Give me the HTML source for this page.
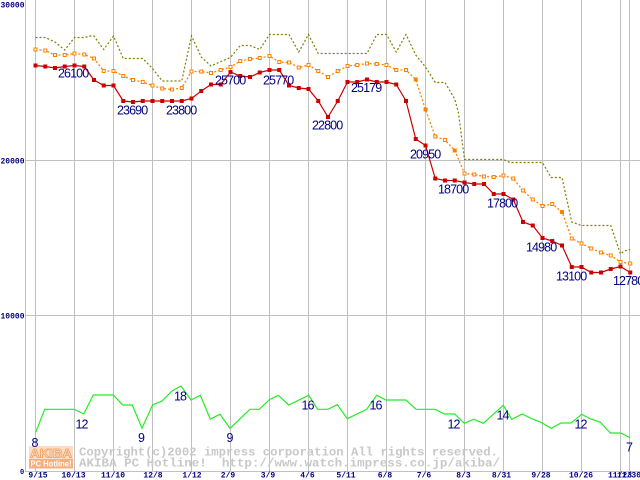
<!DOCTYPE html>
<html><head><meta charset="utf-8"><style>
html,body{margin:0;padding:0;background:#fff;}
svg{display:block;}
.ax{font-family:"Liberation Mono",monospace;font-weight:bold;font-size:8px;fill:#000080;}
.vl{font-family:"Liberation Sans",sans-serif;font-size:12.5px;letter-spacing:-0.9px;fill:#000080;}
.wm{font-family:"Liberation Mono",monospace;font-weight:bold;font-size:11.5px;fill:#c8c8c8;}
</style></head><body>
<svg width="640" height="480" viewBox="0 0 640 480" xmlns="http://www.w3.org/2000/svg">
<rect x="0" y="0" width="640" height="480" fill="#fff"/>
<!-- grid -->
<g stroke="#c0c0c0" stroke-width="1" fill="none">
<line x1="25.5" y1="0" x2="25.5" y2="472"/>
<line x1="35.5" y1="0" x2="35.5" y2="472"/>
<line x1="74.5" y1="0" x2="74.5" y2="472"/>
<line x1="113.5" y1="0" x2="113.5" y2="472"/>
<line x1="152.5" y1="0" x2="152.5" y2="472"/>
<line x1="191.5" y1="0" x2="191.5" y2="472"/>
<line x1="230.5" y1="0" x2="230.5" y2="472"/>
<line x1="269.5" y1="0" x2="269.5" y2="472"/>
<line x1="308.5" y1="0" x2="308.5" y2="472"/>
<line x1="347.5" y1="0" x2="347.5" y2="472"/>
<line x1="386.5" y1="0" x2="386.5" y2="472"/>
<line x1="425.5" y1="0" x2="425.5" y2="472"/>
<line x1="464.5" y1="0" x2="464.5" y2="472"/>
<line x1="503.5" y1="0" x2="503.5" y2="472"/>
<line x1="542.5" y1="0" x2="542.5" y2="472"/>
<line x1="581.5" y1="0" x2="581.5" y2="472"/>
<line x1="620.5" y1="0" x2="620.5" y2="472"/>
<line x1="629.5" y1="0" x2="629.5" y2="472"/>
<line x1="25" y1="160.5" x2="640" y2="160.5"/>
<line x1="25" y1="315.5" x2="640" y2="315.5"/>
<line x1="25" y1="471.5" x2="640" y2="471.5"/>
</g>
<!-- watermark -->
<rect x="29" y="446" width="44" height="13" fill="#fcdcc4"/>
<rect x="29" y="459" width="44" height="9.5" fill="#f5ae7c"/>
<text x="30" y="457.5" textLength="42" lengthAdjust="spacingAndGlyphs" style="font-family:'Liberation Sans',sans-serif;font-weight:bold;font-size:12px;fill:#fde6d4;stroke:#f0a060;stroke-width:0.8">AKIBA</text>
<text x="30.5" y="466.5" textLength="41" lengthAdjust="spacingAndGlyphs" style="font-family:'Liberation Sans',sans-serif;font-weight:bold;font-size:8px;fill:#fff">PC Hotline!</text>
<text class="wm" x="79" y="455.5" textLength="419" lengthAdjust="spacingAndGlyphs">Copyright(c)2002 impress corporation All rights reserved.</text>
<text class="wm" x="79" y="466.5" textLength="421" lengthAdjust="spacingAndGlyphs" xml:space="preserve">AKIBA PC Hotline!  http://www.watch.impress.co.jp/akiba/</text>
<!-- olive -->
<polyline fill="none" stroke="#808000" stroke-width="1.2" stroke-dasharray="2,2" points="35.5,37.5 45.25,37.5 55,42 64.75,50 74.5,37.5 84.25,37.5 90.5,36 94,36 103.75,49.5 113.5,36 123.25,58.5 142.75,58.5 152.5,68.5 162.25,81 181.75,81 191.5,36 201.25,57 211,66 220.75,61.5 230.5,57.5 240.25,45.5 250,45.5 259.75,49.5 269.5,34.5 289,34.5 298.75,52 308.5,34.5 318.25,53.5 367,53.5 376.75,34.5 386.5,34.5 396.25,52 406,34.5 415.75,55 425.5,67 435.25,82.5 445,82.5 454.75,99 458.5,113 464.5,159.5 503.5,159.5 510,162.5 542.5,162.5 551,177.5 562,177.5 571.75,222 581.5,225.5 610.75,225.5 620.5,254 624,251 630.25,249.5"/>
<!-- orange -->
<polyline fill="none" stroke="#ff8000" stroke-width="1.3" stroke-dasharray="2,2" points="35.5,49.5 45.25,50.5 55,55 64.75,55 74.5,53.5 84.25,54.5 94,58.5 103.75,71 113.5,71 123.25,76 133,80 142.75,82 152.5,85.5 162.25,88.5 172,89.5 181.75,88 191.5,71.5 201.25,71.5 211,73 220.75,70 230.5,67 240.25,61 250,59 259.75,58 269.5,56 279.25,62 289,62.5 298.75,67.5 308.5,65 318.25,71 328,77 337.75,71 347.5,66 357.25,65 367,63.5 376.75,64 386.5,65 396.25,70 406,70 415.75,79.5 425.5,109.5 435.25,136.5 445,140 454.75,150.5 464.5,173.5 474.25,174.5 484,176.5 493.75,177 503.5,175.5 513.25,178.5 523,190.5 532.75,199.5 542.5,206 552.25,204 562,212 571.75,238.5 581.5,243.5 591.25,248.5 601,252.5 610.75,255.5 620.5,262 630.25,263.5"/>
<g fill="#fff" stroke="#ff8000" stroke-width="1">
<rect x="34" y="48" width="3" height="3"/><rect x="43.75" y="49" width="3" height="3"/><rect x="53.5" y="53.5" width="3" height="3"/><rect x="63.25" y="53.5" width="3" height="3"/><rect x="73" y="52" width="3" height="3"/><rect x="82.75" y="53" width="3" height="3"/><rect x="92.5" y="57" width="3" height="3"/><rect x="102.25" y="69.5" width="3" height="3"/><rect x="112" y="69.5" width="3" height="3"/><rect x="121.75" y="74.5" width="3" height="3"/><rect x="131.5" y="78.5" width="3" height="3"/><rect x="141.25" y="80.5" width="3" height="3"/><rect x="151" y="84" width="3" height="3"/><rect x="160.75" y="87" width="3" height="3"/><rect x="170.5" y="88" width="3" height="3"/><rect x="180.25" y="86.5" width="3" height="3"/><rect x="190" y="70" width="3" height="3"/><rect x="199.75" y="70" width="3" height="3"/><rect x="209.5" y="71.5" width="3" height="3"/><rect x="219.25" y="68.5" width="3" height="3"/><rect x="229" y="65.5" width="3" height="3"/><rect x="238.75" y="59.5" width="3" height="3"/><rect x="248.5" y="57.5" width="3" height="3"/><rect x="258.25" y="56.5" width="3" height="3"/><rect x="268" y="54.5" width="3" height="3"/><rect x="277.75" y="60.5" width="3" height="3"/><rect x="287.5" y="61" width="3" height="3"/><rect x="297.25" y="66" width="3" height="3"/><rect x="307" y="63.5" width="3" height="3"/><rect x="316.75" y="69.5" width="3" height="3"/><rect x="326.5" y="75.5" width="3" height="3"/><rect x="336.25" y="69.5" width="3" height="3"/><rect x="346" y="64.5" width="3" height="3"/><rect x="355.75" y="63.5" width="3" height="3"/><rect x="365.5" y="62" width="3" height="3"/><rect x="375.25" y="62.5" width="3" height="3"/><rect x="385" y="63.5" width="3" height="3"/><rect x="394.75" y="68.5" width="3" height="3"/><rect x="404.5" y="68.5" width="3" height="3"/>
<rect x="433.75" y="135" width="3" height="3"/><rect x="443.5" y="138.5" width="3" height="3"/><rect x="463" y="172" width="3" height="3"/><rect x="472.75" y="173" width="3" height="3"/><rect x="482.5" y="175" width="3" height="3"/><rect x="492.25" y="175.5" width="3" height="3"/><rect x="502" y="174" width="3" height="3"/><rect x="511.75" y="177" width="3" height="3"/><rect x="521.5" y="189" width="3" height="3"/><rect x="531.25" y="198" width="3" height="3"/><rect x="541" y="204.5" width="3" height="3"/><rect x="550.75" y="202.5" width="3" height="3"/><rect x="570.25" y="237" width="3" height="3"/><rect x="580" y="242" width="3" height="3"/><rect x="589.75" y="247" width="3" height="3"/><rect x="599.5" y="251" width="3" height="3"/><rect x="609.25" y="254" width="3" height="3"/><rect x="619" y="260.5" width="3" height="3"/><rect x="628.75" y="262" width="3" height="3"/>
</g>
<g fill="#ff8000" stroke="#ff8000" stroke-width="1">
<rect x="414.25" y="78" width="3" height="3"/><rect x="424" y="108" width="3" height="3"/><rect x="453.25" y="149" width="3" height="3"/><rect x="560.5" y="210.5" width="3" height="3"/>
</g>
<!-- red -->
<polyline fill="none" stroke="#cc0000" stroke-width="1.2" points="35.5,65.5 45.25,66.5 55,68 64.75,66.5 74.5,65.5 84.25,66.5 94,80 103.75,85.5 113.5,85.5 123.25,101 133,102 142.75,101 152.5,101 162.25,101 172,101 181.75,101 191.5,98.5 201.25,91 211,84.5 220.75,84.5 230.5,72 240.25,76 250,77 259.75,72.5 269.5,70 279.25,70 289,85.5 298.75,88 308.5,89 318.25,101 328,117 337.75,101 347.5,82 357.25,82 367,79.5 376.75,82 386.5,82 396.25,84.5 406,101 415.75,139 425.5,145.5 435.25,178.5 445,180.5 454.75,180.5 464.5,182.5 474.25,184 484,184 493.75,194 503.5,194 513.25,199.5 523,222 532.75,225.5 542.5,238 552.25,241 562,245.5 571.75,267 581.5,267 591.25,272.5 601,272.5 610.75,269 620.5,266.5 630.25,272.5"/>
<g fill="#cc0000">
<rect x="33.5" y="63.5" width="4" height="4"/><rect x="43.25" y="64.5" width="4" height="4"/><rect x="53" y="66" width="4" height="4"/><rect x="62.75" y="64.5" width="4" height="4"/><rect x="72.5" y="63.5" width="4" height="4"/><rect x="82.25" y="64.5" width="4" height="4"/><rect x="92" y="78" width="4" height="4"/><rect x="101.75" y="83.5" width="4" height="4"/><rect x="111.5" y="83.5" width="4" height="4"/><rect x="121.25" y="99" width="4" height="4"/><rect x="131" y="100" width="4" height="4"/><rect x="140.75" y="99" width="4" height="4"/><rect x="150.5" y="99" width="4" height="4"/><rect x="160.25" y="99" width="4" height="4"/><rect x="170" y="99" width="4" height="4"/><rect x="179.75" y="99" width="4" height="4"/><rect x="189.5" y="96.5" width="4" height="4"/><rect x="199.25" y="89" width="4" height="4"/><rect x="209" y="82.5" width="4" height="4"/><rect x="218.75" y="82.5" width="4" height="4"/><rect x="228.5" y="70" width="4" height="4"/><rect x="238.25" y="74" width="4" height="4"/><rect x="248" y="75" width="4" height="4"/><rect x="257.75" y="70.5" width="4" height="4"/><rect x="267.5" y="68" width="4" height="4"/><rect x="277.25" y="68" width="4" height="4"/><rect x="287" y="83.5" width="4" height="4"/><rect x="296.75" y="86" width="4" height="4"/><rect x="306.5" y="87" width="4" height="4"/><rect x="316.25" y="99" width="4" height="4"/><rect x="326" y="115" width="4" height="4"/><rect x="335.75" y="99" width="4" height="4"/><rect x="345.5" y="80" width="4" height="4"/><rect x="355.25" y="80" width="4" height="4"/><rect x="365" y="77.5" width="4" height="4"/><rect x="374.75" y="80" width="4" height="4"/><rect x="384.5" y="80" width="4" height="4"/><rect x="394.25" y="82.5" width="4" height="4"/><rect x="404" y="99" width="4" height="4"/><rect x="413.75" y="137" width="4" height="4"/><rect x="423.5" y="143.5" width="4" height="4"/><rect x="433.25" y="176.5" width="4" height="4"/><rect x="443" y="178.5" width="4" height="4"/><rect x="452.75" y="178.5" width="4" height="4"/><rect x="462.5" y="180.5" width="4" height="4"/><rect x="472.25" y="182" width="4" height="4"/><rect x="482" y="182" width="4" height="4"/><rect x="491.75" y="192" width="4" height="4"/><rect x="501.5" y="192" width="4" height="4"/><rect x="511.25" y="197.5" width="4" height="4"/><rect x="521" y="220" width="4" height="4"/><rect x="530.75" y="223.5" width="4" height="4"/><rect x="540.5" y="236" width="4" height="4"/><rect x="550.25" y="239" width="4" height="4"/><rect x="560" y="243.5" width="4" height="4"/><rect x="569.75" y="265" width="4" height="4"/><rect x="579.5" y="265" width="4" height="4"/><rect x="589.25" y="270.5" width="4" height="4"/><rect x="599" y="270.5" width="4" height="4"/><rect x="608.75" y="267" width="4" height="4"/><rect x="618.5" y="264.5" width="4" height="4"/><rect x="628.25" y="270.5" width="4" height="4"/>
</g>
<!-- green -->
<polyline fill="none" stroke="#22ee22" stroke-width="1.2" points="35.7,432.3 44.7,409.3 74.3,409.3 83.7,414 93.3,395 113.3,395 122.7,405 132.3,405 142,428.3 152.7,404.7 161.7,401.3 172.3,390.7 181,386 191,400 200.3,395.3 210.3,419 220,414.3 230,428.3 250,409.3 259.3,409.3 269.3,399.7 278.3,395.3 288.7,405 308.7,395.3 317.7,409.3 328,409.3 337.3,404.7 347.3,418.7 366.7,409.3 376.7,395.3 386,400 406,400 416,409.3 435.3,409.3 444.3,414 454.7,414 464.3,423.3 473.7,419.3 483.3,423.3 503.3,405.3 511.7,419.3 522.3,414 531.7,418.7 541.7,422.7 551.3,428.3 561,423 571,423 581.7,414.3 590,418.7 600,422 610.3,433 620.7,433 630,437.7"/>
<!-- value labels -->
<text class="vl" x="58" y="77.5">26100</text>
<text class="vl" x="117" y="114.5">23690</text>
<text class="vl" x="166" y="114.5">23800</text>
<text class="vl" x="215" y="84.5">25700</text>
<text class="vl" x="263" y="84.5">25770</text>
<text class="vl" x="312" y="129.5">22800</text>
<text class="vl" x="351" y="92">25179</text>
<text class="vl" x="410" y="158.5">20950</text>
<text class="vl" x="438" y="193.5">18700</text>
<text class="vl" x="487" y="207.5">17800</text>
<text class="vl" x="526" y="251.5">14980</text>
<text class="vl" x="556" y="280.5">13100</text>
<text class="vl" x="613" y="285">12780</text>
<text class="vl" x="31.5" y="447">8</text>
<text class="vl" x="75.5" y="428.5">12</text>
<text class="vl" x="138" y="442">9</text>
<text class="vl" x="174" y="400.5">18</text>
<text class="vl" x="226.5" y="442">9</text>
<text class="vl" x="301.5" y="409.5">16</text>
<text class="vl" x="369.5" y="409.5">16</text>
<text class="vl" x="447.5" y="428.5">12</text>
<text class="vl" x="496.5" y="419.5">14</text>
<text class="vl" x="574.5" y="428.5">12</text>
<text class="vl" x="626" y="451.5">7</text>
<!-- y axis labels -->
<text class="ax" x="0.5" y="7.5">30000</text>
<text class="ax" x="0.5" y="163.5">20000</text>
<text class="ax" x="0.5" y="318.5">10000</text>
<text class="ax" x="20" y="474" style="font-size:7px">0</text>
<!-- x axis labels -->
<g class="ax" text-anchor="middle">
<text x="38" y="477.5">9/15</text>
<text x="73.5" y="477.5">10/13</text>
<text x="113" y="477.5">11/10</text>
<text x="153" y="477.5">12/8</text>
<text x="192" y="477.5">1/12</text>
<text x="228" y="477.5">2/9</text>
<text x="268" y="477.5">3/9</text>
<text x="307.5" y="477.5">4/6</text>
<text x="346" y="477.5">5/11</text>
<text x="385" y="477.5">6/8</text>
<text x="424" y="477.5">7/6</text>
<text x="463.5" y="477.5">8/3</text>
<text x="501.5" y="477.5">8/31</text>
<text x="541" y="477.5">9/28</text>
<text x="581" y="477.5">10/26</text>
<text x="620" y="477.5">11/23</text>
<text x="629" y="477.5">11/30</text>
</g>
</svg>
</body></html>
